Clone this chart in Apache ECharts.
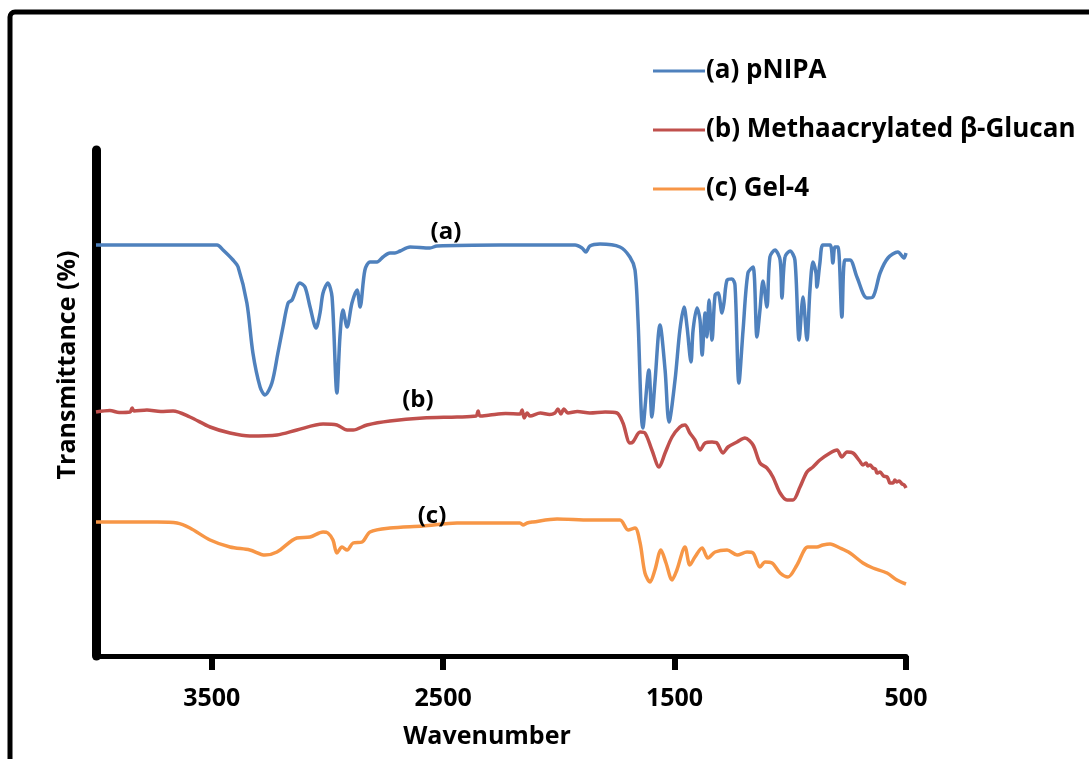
<!DOCTYPE html>
<html>
<head>
<meta charset="utf-8">
<script src="https://cdn.jsdelivr.net/npm/echarts@6/dist/echarts.min.js"></script>
<style>
html,body{margin:0;padding:0;background:#fff;}
#chart{width:1089px;height:759px;}
</style>
</head>
<body>
<div id="chart"></div>
<script>
// Series names
const seriesNames = ['(a) pNIPA', '(b) Methaacrylated β-Glucan', '(c) Gel-4'];
// x-axis tick labels (wavenumber)
const xTicks = [500, 1500, 2500, 3500];

// (a) pNIPA : [wavenumber, transmittance]
const pnipa = [
[4000,82.2],[3477,82.2],[3451,81.2],[3408,79.2],[3386,77.8],[3348,70.6],[3322,60.6],[3291,53.8],[3270,52.2],
[3240,54.6],[3214,60.6],[3192,65.8],[3170,70.6],[3153,71.2],[3119,74.6],[3097,73.8],[3075,69.8],[3049,65.6],
[3032,68.6],[3019,72.6],[2998,74.6],[2980,71.8],[2959,52.6],[2946,63.8],[2933,69.2],[2915,65.8],[2894,70.6],
[2872,73.2],[2859,69.8],[2838,77.2],[2816,78.8],[2786,78.8],[2760,79.8],[2730,80.6],[2708,80.6],[2686,81],
[2643,81.8],[2557,81.6],[2527,82],[2254,82.2],[1930,82.2],[1900,81.6],[1883,80.8],[1866,82],[1822,82.4],
[1736,81.8],[1693,79.8],[1671,77.2],[1658,67.2],[1637,45.6],[1611,57.2],[1598,47.8],[1585,54.6],[1563,66.2],
[1541,57.2],[1524,46.8],[1498,55.2],[1477,65.2],[1459,69.8],[1446,65.8],[1429,58.8],[1420,65.2],[1403,69.6],
[1390,67.2],[1381,60.2],[1368,68.6],[1360,63.8],[1351,71.2],[1338,63.2],[1325,72.2],[1312,72.6],[1295,68.6],
[1286,70.8],[1273,75.2],[1252,75.4],[1239,74.2],[1222,54.6],[1204,65.2],[1183,76.6],[1161,77.8],[1144,63.8],
[1131,69.2],[1118,75],[1101,69.8],[1088,79.8],[1066,81.2],[1044,79.2],[1036,71.6],[1023,79.8],[1001,81],
[980,79.2],[962,63.2],[945,71.8],[928,63.2],[915,73.2],[902,78.8],[889,76.6],[885,73.8],[872,78.6],[859,82.2],
[828,82.2],[816,78.6],[807,81.8],[794,81.8],[777,67.8],[764,79.2],[742,79.2],[712,75.8],[669,71.6],[643,71.8],
[612,76.6],[578,79.6],[535,80.8],[509,79.6],[500,80.6]
];

// (b) Methaacrylated β-Glucan
const glucan = [
[4000,48.8],[3940,49.1],[3900,48.7],[3853,48.8],[3844,49.6],[3836,49.0],[3780,49.2],[3720,48.9],[3667,49.0],
[3594,47.8],[3507,45.8],[3421,44.6],[3335,44.0],[3218,44.2],[3132,45.2],[3019,46.4],[2959,46.2],[2915,45.2],
[2889,45.2],[2829,46.2],[2730,47.0],[2587,47.6],[2440,47.8],[2358,48.0],[2349,49.0],[2341,48.0],[2298,48.2],
[2230,48.5],[2168,48.4],[2159,49.2],[2150,47.6],[2137,48.6],[2125,48.0],[2080,48.6],[2040,48.3],[2017,48.6],
[2004,49.4],[1991,48.4],[1978,49.4],[1961,48.6],[1920,48.9],[1866,48.6],[1800,48.8],[1749,48.6],[1723,46.6],
[1693,42.6],[1680,42.8],[1649,44.8],[1628,44.6],[1598,41.2],[1567,37.8],[1541,40.6],[1511,43.8],[1477,45.8],
[1455,46.2],[1434,44.6],[1412,43.2],[1390,41.2],[1368,42.6],[1338,42.8],[1317,42.6],[1291,40.6],[1269,41.8],
[1230,42.8],[1196,43.6],[1161,42.2],[1131,38.6],[1101,37.6],[1075,35.8],[1044,32.6],[1014,31.2],[988,31.2],
[958,33.8],[928,36.8],[902,37.8],[872,39.2],[828,40.6],[798,41.2],[777,39.8],[755,40.8],[729,40.6],[700,39.0],
[686,38.2],[672,38.6],[665,38.0],[655,38.2],[643,37.6],[632,37.4],[625,36.6],[612,36.8],[597,36.0],[582,35.8],
[575,35.2],[570,34.6],[556,34.6],[548,35.2],[540,34.8],[530,35.0],[517,34.4],[508,34.2],[500,33.6]
];

// (c) Gel-4
const gel4 = [
[4000,26.8],[3736,26.8],[3650,26.6],[3594,25.6],[3507,23.2],[3421,21.8],[3335,21.2],[3270,20.2],[3218,20.8],
[3132,23.6],[3075,23.8],[3019,24.8],[2998,24.6],[2976,23.2],[2959,20.6],[2937,21.8],[2915,21.2],[2889,22.6],
[2850,22.8],[2816,24.8],[2730,25.6],[2587,26.0],[2440,26.6],[2298,26.6],[2168,26.6],[2155,26.2],[2137,26.6],
[2112,26.8],[2008,27.4],[1866,27.2],[1736,27.2],[1701,25.2],[1671,25.6],[1649,22.6],[1628,16.6],[1606,14.8],
[1585,17.2],[1559,21.2],[1537,18.6],[1511,15.2],[1490,17.2],[1455,21.8],[1434,18.2],[1412,19.8],[1381,21.6],
[1356,19.6],[1325,20.8],[1273,21.2],[1230,20.2],[1187,20.8],[1161,20.6],[1131,17.8],[1109,18.8],[1079,18.6],
[1044,16.6],[1010,15.8],[971,18.2],[924,21.8],[885,21.8],[859,22.2],[828,22.4],[785,21.6],[742,20.6],[686,18.6],
[643,17.6],[582,16.6],[539,15.2],[500,14.4]
];

// curve annotations: [label, wavenumber, transmittance]
const annotations = [['(a)', 2488, 84.8], ['(b)', 2609, 51.2], ['(c)', 2548, 28.0]];

const colors = ['#4F81BD', '#C0504D', '#F79646'];
const FONT = '"Open Sans", Lato, sans-serif';
const datasets = [pnipa, glucan, gel4];

const chart = echarts.init(document.getElementById('chart'));
chart.setOption({
  animation: false,
  backgroundColor: '#fff',
  color: colors,
  grid: { left: 96, right: 183, top: 150, bottom: 103, containLabel: false },
  legend: {
    orient: 'vertical', left: 648, top: 53, itemGap: 33,
    icon: 'rect', itemWidth: 52, itemHeight: 3,
    data: seriesNames,
    textStyle: { fontFamily: FONT, fontWeight: 'bold', fontSize: 26, color: '#000', padding: [0,0,0,-4] }
  },
  xAxis: {
    type: 'value', inverse: true, min: 500, max: 4000, interval: 1000,
    name: 'Wavenumber', nameLocation: 'middle', nameGap: 68,
    nameTextStyle: { fontFamily: FONT, fontWeight: 'bold', fontSize: 25, color: '#000', padding: [0, 28, 0, 0] },
    axisLine: { show: true, onZero: false, lineStyle: { color: '#000', width: 5 } },
    axisTick: { show: true, length: 14, customValues: xTicks, lineStyle: { color: '#000', width: 6 } },
    axisLabel: { customValues: xTicks, margin: 30, formatter: v => String(v), fontFamily: FONT, fontWeight: 'bold', fontSize: 25, color: '#000' },
    splitLine: { show: false }
  },
  yAxis: {
    type: 'value', min: 0, max: 101.2,
    name: 'Transmittance (%)', nameLocation: 'middle', nameGap: 16,
    nameTextStyle: { fontFamily: FONT, fontWeight: 'bold', fontSize: 25, color: '#000', padding: [0, 0, 0, 76] },
    axisLine: { show: true, lineStyle: { color: '#000', width: 9 } },
    axisTick: { show: false }, axisLabel: { show: false }, splitLine: { show: false }
  },
  series: seriesNames.map((n, i) => ({
    name: n, type: 'line', data: datasets[i], symbol: 'none', smooth: 0.3,
    lineStyle: { width: 3.5, color: colors[i] },
    markPoint: {
      symbol: 'circle', symbolSize: 0,
      label: { show: true, formatter: annotations[i][0], fontFamily: FONT, fontWeight: 'bold', fontSize: 24, color: '#000', position: 'inside' },
      data: [{ coord: [annotations[i][1], annotations[i][2]] }]
    }
  })),
  graphic: [
    { type: 'rect', shape: { x: 10, y: 12, width: 1300, height: 900, r: 5 }, style: { fill: 'none', stroke: '#000', lineWidth: 5 }, silent: true }
  ]
});
</script>
</body>
</html>
